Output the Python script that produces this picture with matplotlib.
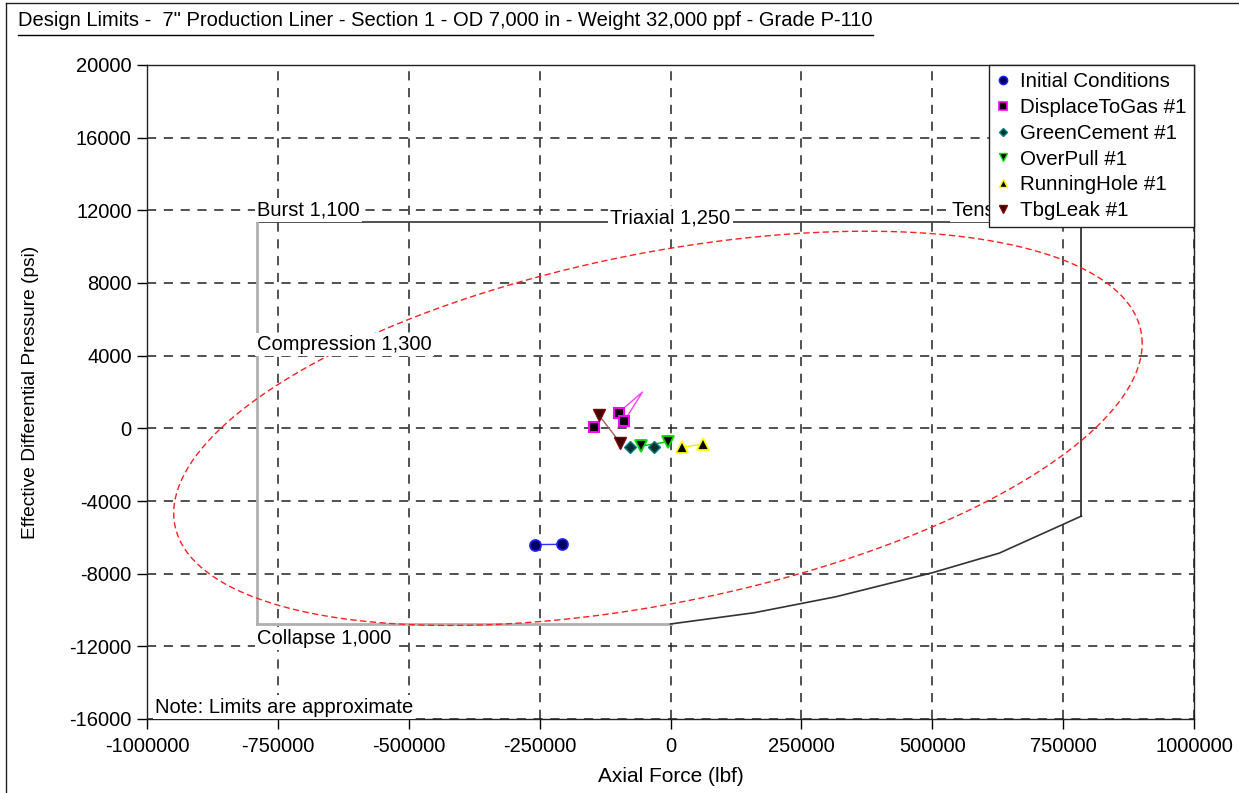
import numpy as np
import matplotlib
matplotlib.use("Agg")
import matplotlib.pyplot as plt
from matplotlib.lines import Line2D

plt.rcParams['font.family'] = ['Liberation Sans', 'DejaVu Sans']

TITLE = 'Design Limits -  7" Production Liner - Section 1 - OD 7,000 in - Weight 32,000 ppf - Grade P-110'

# Axis ticks
x_ticks = [-1000000, -750000, -500000, -250000, 0, 250000, 500000, 750000, 1000000]
y_ticks = [-16000, -12000, -8000, -4000, 0, 4000, 8000, 12000, 16000, 20000]

# Design limit envelope (lbf, psi)
burst_psi = 11370
collapse_psi = -10770
compression_lbf = -790000
tension_lbf = 785000
# Collapse limit with axial tension (right-hand curve)
collapse_tension_x = [0, 160000, 316000, 500000, 628000, 785000]
collapse_tension_y = [-10770, -10150, -9270, -7950, -6870, -4830]

# Triaxial (von Mises) ellipse: centre, half extents and axial/pressure coupling
tri_center = (-24000, 0)
tri_half_axial = 925000
tri_half_pressure = 10850
tri_coupling = 0.43

# Load cases (axial force lbf, differential pressure psi)
init_x = [-257900, -206900]
init_y = [-6400, -6385]
dtg_x = [-145200, -99300, -87900]
dtg_y = [55, 859, 418]
dtg_trail_x = [-99300, -53500, -87900]
dtg_trail_y = [859, 2000, 418]
gc_x = [-78300, -30600]
gc_y = [-1046, -1013]
op_x = [-56000, -5200]
op_y = [-974, -738]
rh_x = [22300, 63000]
rh_y = [-1046, -864]
tl_x = [-137000, -96100]
tl_y = [732, -793]

fig = plt.figure(figsize=(12.39, 7.93), dpi=100)
ax = fig.add_axes([147/1239, 1-719/793, (1194-147)/1239, (719-65)/793])

ax.set_xlim(-1000000, 1000000)
ax.set_ylim(-16000, 20000)
ax.set_xticks(x_ticks)
ax.set_yticks(y_ticks)
ax.set_xticklabels([str(v) for v in x_ticks])
ax.set_yticklabels([str(v) for v in y_ticks])
ax.tick_params(direction='out', length=7, width=1, labelsize=14.5, colors='black')
ax.tick_params(axis='x', pad=6)
ax.tick_params(axis='y', pad=4)
ax.grid(True, color='#222222', lw=1.1, linestyle=(0, (6, 5)))
ax.set_axisbelow(True)
for s in ax.spines.values():
    s.set_linewidth(1.0)
    s.set_color('#222222')

ax.set_xlabel('Axial Force (lbf)', fontsize=15, labelpad=8)
ax.set_ylabel('Effective Differential Pressure (psi)', fontsize=13.8, labelpad=22)

# Envelope lines
ax.plot([compression_lbf, tension_lbf], [burst_psi, burst_psi], color='#333333', lw=1.2, zorder=2)
ax.plot([compression_lbf, compression_lbf], [burst_psi, collapse_psi], color='#b0b0b0', lw=2.0, zorder=2)
ax.plot([compression_lbf, 0], [collapse_psi, collapse_psi], color='#b0b0b0', lw=2.0, zorder=2)
ax.plot(collapse_tension_x, collapse_tension_y, color='#333333', lw=1.2, zorder=2)
ax.plot([tension_lbf, tension_lbf], [collapse_tension_y[-1], burst_psi], color='#222222', lw=1.2, zorder=2)

# Triaxial ellipse
t = np.linspace(0, 2*np.pi, 400)
phi = np.arccos(tri_coupling)
ex = tri_center[0] + tri_half_axial*np.cos(t)
ey = tri_center[1] + tri_half_pressure*np.cos(t - phi)
ax.plot(ex, ey, color='#ff2020', lw=1.0, linestyle=(0, (4.5, 2.5)), zorder=2.2)

# Limit labels
lbl = dict(fontsize=14.5, va='center', zorder=4,
           bbox=dict(facecolor='white', edgecolor='none', pad=1.5))
ax.text(compression_lbf, 12000, 'Burst 1,100', ha='left', **lbl)
ax.text(0, 11600, 'Triaxial 1,250', ha='center', **lbl)
ax.text(538000, 12000, 'Tension 1,300', ha='left', **lbl)
ax.text(compression_lbf, 4640, 'Compression 1,300', ha='left', **lbl)
ax.text(compression_lbf, -11550, 'Collapse 1,000', ha='left', **lbl)
ax.text(-985000, -15340, 'Note: Limits are approximate', ha='left', **lbl)

# Load case markers
ms = 8
ax.plot(init_x, init_y, color='#3030ff', lw=1, zorder=5)
ax.plot(init_x, init_y, 'o', ms=ms, mfc='#000060', mec='#2020ff', mew=1.2, lw=0, zorder=6)
ax.plot(dtg_trail_x, dtg_trail_y, color='#ff40ff', lw=1, zorder=5)
ax.plot(dtg_x, dtg_y, 's', ms=7.5, mfc='black', mec='#ff00ff', mew=1.5, lw=0, zorder=6)
ax.plot(tl_x, tl_y, color='#a06060', lw=1, zorder=5)
ax.plot(tl_x, tl_y, 'v', ms=ms, mfc='#400000', mec='#800000', mew=1, lw=0, zorder=6)
ax.plot(gc_x, gc_y, 'D', ms=6, mfc='#003030', mec='#008080', mew=1, lw=0, zorder=6)
ax.plot(op_x, op_y, color='#00c000', lw=1, zorder=5)
ax.plot(op_x, op_y, 'v', ms=ms, mfc='black', mec='#00e000', mew=1.3, lw=0, zorder=6)
ax.plot(rh_x, rh_y, color='#f0f000', lw=1, zorder=5)
ax.plot(rh_x, rh_y, '^', ms=ms, mfc='black', mec='#ffff00', mew=1.3, lw=0, zorder=6)

# Legend
handles = [
    Line2D([], [], marker='o', ls='none', ms=6, mfc='#000060', mec='#2020ff'),
    Line2D([], [], marker='s', ls='none', ms=5.5, mfc='black', mec='#ff00ff', mew=1.2),
    Line2D([], [], marker='D', ls='none', ms=4.5, mfc='#003030', mec='#008080'),
    Line2D([], [], marker='v', ls='none', ms=6, mfc='black', mec='#00e000'),
    Line2D([], [], marker='^', ls='none', ms=6, mfc='black', mec='#ffff00'),
    Line2D([], [], marker='v', ls='none', ms=6, mfc='#400000', mec='#800000'),
]
labels = ['Initial Conditions', 'DisplaceToGas #1', 'GreenCement #1',
          'OverPull #1', 'RunningHole #1', 'TbgLeak #1']
leg = ax.legend(handles, labels, loc='upper right', borderaxespad=0, fontsize=14.8,
                frameon=True, fancybox=False, framealpha=1, edgecolor='#222222',
                handlelength=0.6, handletextpad=0.55, labelspacing=0.33, borderpad=0.35)
leg.get_frame().set_linewidth(1.0)
leg.set_zorder(10)

# Title with underline and outer frame
title = fig.text(18/1239, 1-20/793, TITLE, fontsize=14.5, ha='left', va='center')
fig.canvas.draw()
bb = title.get_window_extent()
uy = 1 - 35/793
fig.add_artist(Line2D([bb.x0/1239, bb.x1/1239], [uy, uy], color='black', lw=1.0))
fig.add_artist(Line2D([6/1239, 6/1239], [0, 1-3/793], color='#222222', lw=1.0))
fig.add_artist(Line2D([6/1239, 1], [1-3/793, 1-3/793], color='#222222', lw=1.0))

fig.savefig('out.png', dpi=100)
